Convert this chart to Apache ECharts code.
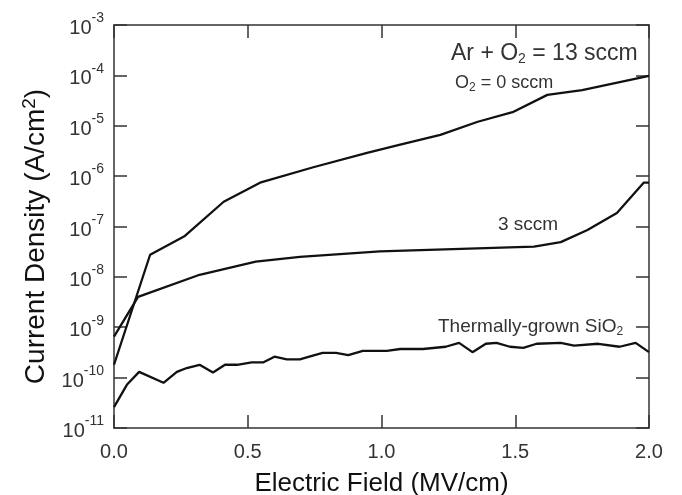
<!DOCTYPE html>
<html>
<head>
<meta charset="utf-8">
<script src="https://cdn.jsdelivr.net/npm/echarts@6/dist/echarts.min.js"></script>
<style>
html,body{margin:0;padding:0;background:#fff;}
#c{width:682px;height:495px;}
</style>
</head>
<body>
<div id="c"></div>
<script>
// Electric field (MV/cm) and current density (A/cm^2)
const xO2zero = [0, 0.135, 0.265, 0.41, 0.546, 0.745, 0.946, 1.07, 1.22, 1.36, 1.49, 1.62, 1.75, 2.0];
const jO2zero = [1.8e-10, 2.75e-8, 6.5e-8, 3.1e-7, 7.4e-7, 1.5e-6, 2.9e-6, 4.2e-6, 6.6e-6, 1.2e-5, 1.86e-5, 4.1e-5, 5.1e-5, 9.8e-5];

const xO2three = [0, 0.09, 0.32, 0.53, 0.695, 0.994, 1.57, 1.67, 1.77, 1.88, 1.98, 2.0];
const jO2three = [6.5e-10, 4.0e-9, 1.1e-8, 2.0e-8, 2.5e-8, 3.2e-8, 4.0e-8, 4.9e-8, 8.5e-8, 1.86e-7, 7.4e-7, 7.4e-7];

const xThermal = [0, 0.048, 0.094, 0.185, 0.235, 0.272, 0.32, 0.37, 0.415, 0.46, 0.515, 0.557, 0.60, 0.646, 0.695, 0.73, 0.78, 0.83, 0.876, 0.93, 1.02, 1.07, 1.155, 1.24, 1.29, 1.34, 1.39, 1.43, 1.48, 1.53, 1.58, 1.67, 1.72, 1.81, 1.89, 1.95, 2.0];
const jThermal = [2.6e-11, 7.2e-11, 1.3e-10, 7.9e-11, 1.3e-10, 1.55e-10, 1.8e-10, 1.26e-10, 1.8e-10, 1.8e-10, 2.0e-10, 2.0e-10, 2.6e-10, 2.3e-10, 2.3e-10, 2.6e-10, 3.1e-10, 3.1e-10, 2.8e-10, 3.4e-10, 3.4e-10, 3.7e-10, 3.7e-10, 4.1e-10, 4.9e-10, 3.2e-10, 4.7e-10, 4.9e-10, 4.1e-10, 3.9e-10, 4.7e-10, 4.9e-10, 4.3e-10, 4.7e-10, 4.1e-10, 4.9e-10, 3.2e-10];

const xTicks = [0.0, 0.5, 1.0, 1.5, 2.0];
const yMinExp = -11, yMaxExp = -3;

const pair = (xs, ys) => xs.map((x, i) => [x, ys[i]]);
const FONT = '"Liberation Sans", Arial, sans-serif';
const TXT = '#333';
const AX = '#333';

const chart = echarts.init(document.getElementById('c'), null, {renderer: 'canvas'});

const lineStyle = {color: '#111', width: 2.3};
const mkSeries = (name, xs, ys) => ({
  name, type: 'line', data: pair(xs, ys), showSymbol: false, symbol: 'none',
  lineStyle, smooth: false, animation: false, z: 3
});

const xAxisBase = {
  type: 'value', min: 0, max: 2, interval: 0.5,
  axisLine: {show: true, onZero: false, lineStyle: {color: AX, width: 1.5}},
  axisTick: {show: true, inside: true, length: 13, lineStyle: {color: AX, width: 1.5}},
  splitLine: {show: false}
};
const yAxisBase = {
  type: 'log', logBase: 10, min: Math.pow(10, yMinExp), max: Math.pow(10, yMaxExp),
  splitNumber: 8,
  axisLine: {show: true, onZero: false, lineStyle: {color: AX, width: 1.5}},
  axisTick: {show: true, inside: true, length: 13, lineStyle: {color: AX, width: 1.5}},
  splitLine: {show: false}, minorTick: {show: false}
};

chart.setOption({
  animation: false,
  backgroundColor: '#fff',
  grid: {left: 114, right: 33, top: 25, bottom: 67, containLabel: false, outerBoundsMode: 'none'},
  xAxis: [
    Object.assign({}, xAxisBase, {
      position: 'bottom',
      name: 'Electric Field (MV/cm)', nameLocation: 'middle', nameGap: 43,
      nameTextStyle: {fontFamily: FONT, fontSize: 26, color: '#111'},
      axisLabel: {show: true, margin: 14, fontFamily: FONT, fontSize: 20, color: TXT,
        formatter: v => xTicks.includes(v) ? v.toFixed(1) : ''}
    }),
    Object.assign({}, xAxisBase, {position: 'top', axisLabel: {show: false}})
  ],
  yAxis: [
    Object.assign({}, yAxisBase, {
      position: 'left',
      name: '{n|Current Density (A/cm}{s|2}{n|)}', nameLocation: 'middle', nameGap: 60, nameRotate: 90,
      nameTextStyle: {
        padding: [0, 20, 0, 0],
        rich: {
          n: {fontFamily: FONT, fontSize: 28, color: '#111'},
          s: {fontFamily: FONT, fontSize: 19, color: '#111', verticalAlign: 'top', padding: [0, 0, 14, 0]}
        }
      },
      axisLabel: {
        show: true, margin: 10,
        formatter: v => {
          const e = Math.round(Math.log10(v));
          return '{b|10}{e|' + e + '}';
        },
        rich: {
          b: {fontFamily: FONT, fontSize: 20, color: TXT, verticalAlign: 'bottom'},
          e: {fontFamily: FONT, fontSize: 14, color: TXT, verticalAlign: 'top', padding: [0, 0, 13, 0]}
        }
      }
    }),
    Object.assign({}, yAxisBase, {position: 'right', axisLabel: {show: false}})
  ],
  series: [
    mkSeries('O2 = 0 sccm', xO2zero, jO2zero),
    mkSeries('3 sccm', xO2three, jO2three),
    mkSeries('Thermally-grown SiO2', xThermal, jThermal)
  ],
  graphic: [
    {type: 'text', left: 451, top: 42, style: {
      text: '{a|Ar + O}{s|2}{a| = 13 sccm}',
      rich: {a: {fontFamily: FONT, fontSize: 23, fill: TXT}, s: {fontFamily: FONT, fontSize: 14, fill: TXT, padding: [12, 0, 0, 0]}}
    }},
    {type: 'text', left: 455, top: 74, style: {
      text: '{a|O}{s|2}{a| = 0 sccm}',
      rich: {a: {fontFamily: FONT, fontSize: 18, fill: TXT}, s: {fontFamily: FONT, fontSize: 12, fill: TXT, padding: [10, 0, 0, 0]}}
    }},
    {type: 'text', left: 498, top: 215, style: {
      text: '3 sccm', fontFamily: FONT, fontSize: 19, fill: TXT
    }},
    {type: 'text', left: 438, top: 317, style: {
      text: '{a|Thermally-grown SiO}{s|2}',
      rich: {a: {fontFamily: FONT, fontSize: 19, fill: TXT}, s: {fontFamily: FONT, fontSize: 12, fill: TXT, padding: [10, 0, 0, 0]}}
    }}
  ]
});
</script>
</body>
</html>
